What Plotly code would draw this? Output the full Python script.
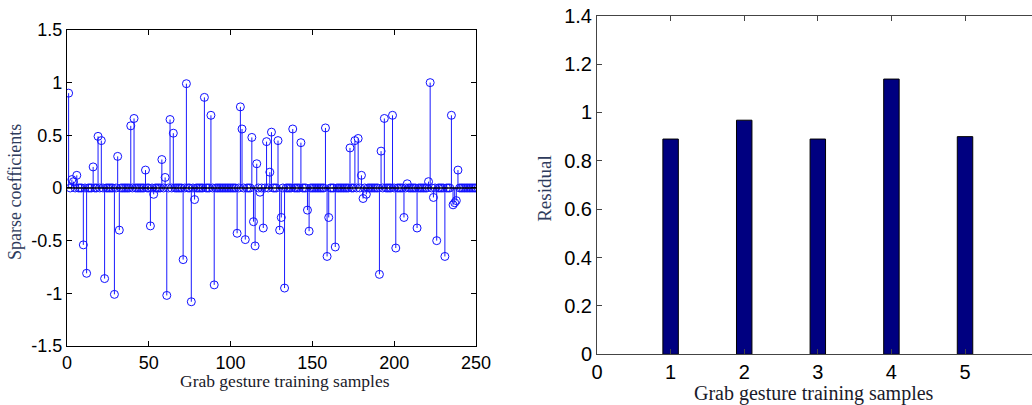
import plotly.graph_objects as go

# ---------------- data ----------------
n_samples = 250
stem_idx = [1, 3, 4, 6, 10, 12, 16, 19, 21, 23, 29, 31, 32, 39, 41, 48, 51, 53, 58, 60,
            61, 63, 65, 71, 73, 76, 78, 84, 88, 90, 104, 106, 107, 109, 113, 114, 115,
            116, 118, 120, 122, 124, 125, 129, 130, 131, 133, 138, 143, 147, 148, 158,
            159, 160, 164, 173, 176, 178, 180, 181, 183, 191, 192, 194, 199, 201, 206,
            208, 214, 221, 222, 224, 226, 231, 235, 236, 237, 238, 239]
stem_val = [0.90, 0.08, 0.06, 0.12, -0.54, -0.81, 0.20, 0.49, 0.45, -0.86, -1.01, 0.30,
            -0.40, 0.59, 0.66, 0.17, -0.36, -0.06, 0.27, 0.10, -1.02, 0.65, 0.52, -0.68,
            0.99, -1.08, -0.11, 0.86, 0.69, -0.92, -0.43, 0.77, 0.56, -0.49, 0.48, -0.32,
            -0.55, 0.23, -0.04, -0.38, 0.44, 0.15, 0.53, 0.45, -0.40, -0.28, -0.95, 0.56,
            0.43, -0.21, -0.41, 0.57, -0.65, -0.28, -0.56, 0.38, 0.45, 0.47, 0.12, -0.10,
            -0.06, -0.82, 0.35, 0.66, 0.69, -0.57, -0.28, 0.04, -0.38, 0.06, 1.00, -0.09,
            -0.50, -0.65, 0.69, -0.16, -0.14, -0.12, 0.17]

bar_x = [1, 2, 3, 4, 5]
bar_y = [0.89, 0.968, 0.89, 1.138, 0.90]

left_xticks = [0, 50, 100, 150, 200, 250]
left_yticks = [-1.5, -1, -0.5, 0, 0.5, 1, 1.5]
left_yticktext = ["-1.5", "-1", "-0.5", "0", "0.5", "1", "1.5"]
right_xticks = [0, 1, 2, 3, 4, 5]
right_yticks = [0, 0.2, 0.4, 0.6, 0.8, 1.0, 1.2, 1.4]
right_yticktext = ["0", "0.2", "0.4", "0.6", "0.8", "1", "1.2", "1.4"]

# ---------------- build ----------------
samples = list(range(1, n_samples + 1))
coeffs = [0.0] * n_samples
for i, v in zip(stem_idx, stem_val):
    coeffs[i - 1] = v

stem_x, stem_y = [], []
for i, v in zip(samples, coeffs):
    stem_x += [i, i, None]
    stem_y += [0, v, None]

fig = go.Figure()
fig.add_trace(go.Scatter(x=stem_x, y=stem_y, mode="lines",
                         line=dict(color="#1a1aff", width=1),
                         xaxis="x", yaxis="y", hoverinfo="skip", showlegend=False))
fig.add_trace(go.Scatter(x=samples, y=coeffs, mode="markers",
                         marker=dict(symbol="circle-open", size=8, color="#1010ff",
                                     line=dict(width=1, color="#1010ff")),
                         xaxis="x", yaxis="y", showlegend=False))
fig.add_trace(go.Scatter(x=[0, n_samples], y=[0, 0], mode="lines",
                         line=dict(color="black", width=1.5),
                         xaxis="x", yaxis="y", hoverinfo="skip", showlegend=False))

fig.add_trace(go.Bar(x=bar_x, y=bar_y, width=0.21,
                     marker=dict(color="#000080", line=dict(color="black", width=1)),
                     xaxis="x2", yaxis="y2", showlegend=False))

tick_font_l = dict(family="Liberation Sans, Arial, sans-serif", size=18, color="black")
tick_font_r = dict(family="Liberation Sans, Arial, sans-serif", size=20, color="black")

fig.update_layout(
    width=1032, height=405,
    margin=dict(l=0, r=0, t=0, b=0, autoexpand=False),
    paper_bgcolor="white", plot_bgcolor="white",
    xaxis=dict(domain=[0.0649, 0.4612], range=[0, 250], anchor="y", automargin=False,
               tickmode="array", tickvals=left_xticks,
               ticks="inside", ticklen=5, tickcolor="black",
               showline=True, linecolor="black", linewidth=1, mirror="ticks",
               showgrid=False, zeroline=False, tickfont=tick_font_l),
    yaxis=dict(domain=[0.1457, 0.926], range=[-1.5, 1.5], anchor="x", automargin=False,
               tickmode="array", tickvals=left_yticks, ticktext=left_yticktext,
               ticks="inside", ticklen=5, tickcolor="black",
               showline=True, linecolor="black", linewidth=1, mirror="ticks",
               showgrid=False, zeroline=False, tickfont=tick_font_l),
    xaxis2=dict(domain=[0.5785, 1.0], range=[0, 5.91], anchor="y2", automargin=False,
                tickmode="array", tickvals=right_xticks,
                ticks="inside", ticklen=5, tickcolor="#444",
                showline=True, linecolor="#444", linewidth=1, mirror="ticks",
                showgrid=False, zeroline=False, tickfont=tick_font_r),
    yaxis2=dict(domain=[0.1252, 0.9612], range=[0, 1.4], anchor="x2", automargin=False,
                tickmode="array", tickvals=right_yticks, ticktext=right_yticktext,
                ticks="inside", ticklen=5, tickcolor="#444",
                showline=True, linecolor="#444", linewidth=1,
                showgrid=False, zeroline=False, tickfont=tick_font_r),
    annotations=[
        dict(text="Sparse coefficients", x=15 / 1032, y=0.526, xref="paper", yref="paper",
             textangle=-90, showarrow=False, xanchor="center", yanchor="middle",
             font=dict(family="Liberation Serif, Times New Roman, serif", size=18, color="#2e3b5c")),
        dict(text="Grab gesture training samples", x=0.276, y=0.06, xref="paper", yref="paper",
             showarrow=False, xanchor="center", yanchor="middle",
             font=dict(family="Liberation Serif, Times New Roman, serif", size=17.5, color="#1a1a2a")),
        dict(text="Residual", x=0.528, y=0.536, xref="paper", yref="paper",
             textangle=-90, showarrow=False, xanchor="center", yanchor="middle",
             font=dict(family="Liberation Serif, Times New Roman, serif", size=19, color="#2e3b5c")),
        dict(text="Grab gesture training samples", x=0.789, y=0.028, xref="paper", yref="paper",
             showarrow=False, xanchor="center", yanchor="middle",
             font=dict(family="Liberation Serif, Times New Roman, serif", size=20, color="#1a1a2a")),
    ],
)

fig.write_html("out.html")
